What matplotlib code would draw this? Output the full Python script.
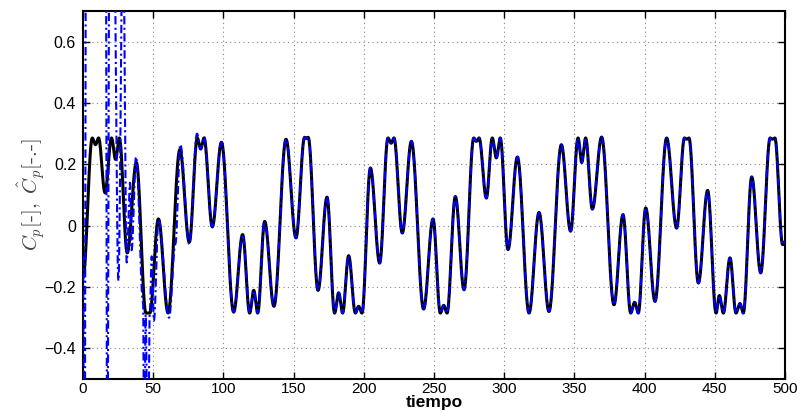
import numpy as np
import matplotlib
matplotlib.use('Agg')
import matplotlib.pyplot as plt

# ---- data: local extrema of the true Cp (black) ----
cp_t = [0.0, 6.6, 8.9, 11.1, 15.7, 20.3, 23.2, 25.9, 31.5, 38.0, 44.8, 47.6,
        53.7, 60.6, 69.0, 75.7, 81.4, 83.8, 86.2, 92.1, 98.6, 107.3, 113.7,
        118.7, 121.6, 124.4, 129.4, 136.0, 144.6, 151.7, 157.8, 159.1, 160.4,
        167.4, 173.8, 179.2, 182.1, 184.9, 189.2, 194.0, 196.3, 198.7, 204.7,
        211.3, 217.2, 219.5, 221.5, 227.4, 233.9, 242.6, 249.3, 254.5, 256.9,
        259.3, 265.2, 271.4, 278.3, 280.2, 282.1, 287.3, 291.5, 294.4, 297.2,
        302.7, 309.4, 317.7, 324.8, 331.9, 340.7, 347.3, 352.6, 355.2, 358.0,
        362.8, 369.4, 378.2, 384.6, 390.1, 392.9, 395.5, 400.8, 407.4, 415.7,
        422.8, 428.4, 430.0, 431.6, 438.3, 444.9, 450.9, 453.2, 456.1, 460.8,
        465.1, 467.9, 470.3, 476.3, 482.7, 489.4, 491.1, 492.8, 498.3, 500.0]
cp_y = [-0.17, 0.286, 0.264, 0.286, 0.107, 0.286, 0.216, 0.286, -0.089, 0.206,
        -0.285, -0.285, 0.022, -0.285, 0.248, -0.054, 0.286, 0.250, 0.286,
        -0.004, 0.272, -0.282, -0.029, -0.285, -0.211, -0.285, 0.014, -0.263,
        0.282, -0.040, 0.288, 0.285, 0.288, -0.211, 0.093, -0.285, -0.219,
        -0.285, -0.098, -0.285, -0.263, -0.285, 0.188, -0.122, 0.286, 0.269,
        0.286, -0.024, 0.275, -0.272, 0.022, -0.285, -0.260, -0.285, 0.095,
        -0.209, 0.286, 0.275, 0.286, 0.090, 0.286, 0.221, 0.286, -0.078, 0.224,
        -0.285, 0.043, -0.280, 0.264, -0.018, 0.286, 0.206, 0.286, 0.054,
        0.289, -0.258, 0.036, -0.285, -0.250, -0.285, 0.058, -0.247, 0.286,
        -0.008, 0.286, 0.282, 0.286, -0.187, 0.115, -0.285, -0.228, -0.285,
        -0.105, -0.285, -0.254, -0.285, 0.159, -0.154, 0.286, 0.282, 0.286,
        -0.062, -0.052]

# ---- estimate (blue) during its start-up transient; afterwards it follows Cp ----
est_t = [0.0, 1.0, 2.4, 16.0, 17.3, 19.0, 22.0, 25.2, 28.5, 31.1, 33.5, 34.6,
         37.8, 42.8, 43.6, 44.6, 46.2, 47.6, 48.9, 50.5, 53.8, 61.3, 65.8,
         69.3, 75.7, 81.2, 83.8, 86.2]
est_y = [-0.10, -1.20, 1.50, 1.50, -0.90, 1.20, 1.00, -0.18, 1.00, -0.12, 0.14,
         -0.08, 0.225, -0.25, -0.80, -0.29, -0.80, -0.28, -0.10, -0.31, 0.02,
         -0.30, -0.06, 0.265, -0.060, 0.300, 0.250, 0.290]

xticks = [0, 50, 100, 150, 200, 250, 300, 350, 400, 450, 500]
yticks = [-0.4, -0.2, 0, 0.2, 0.4, 0.6]


def smooth_path(ts, ys, n=30):
    """Draw a smooth stroke through successive extrema."""
    tt, yy = [], []
    for i in range(len(ts) - 1):
        s = np.linspace(0, 1, n, endpoint=False)
        tt.append(ts[i] + (ts[i + 1] - ts[i]) * s)
        yy.append(ys[i] + (ys[i + 1] - ys[i]) * (1 - np.cos(np.pi * s)) / 2)
    tt.append([ts[-1]])
    yy.append([ys[-1]])
    return np.concatenate(tt), np.concatenate(yy)


plt.rcParams['font.family'] = ['Liberation Sans', 'DejaVu Sans']
plt.rcParams['mathtext.fontset'] = 'cm'

fig = plt.figure(figsize=(8.03, 4.13), dpi=100)
ax = fig.add_axes([83 / 803, 1 - 379 / 413, (785 - 83) / 803, (379 - 11) / 413])

bt, by = smooth_path(cp_t, cp_y)
ax.plot(bt, by, color='black', lw=2.2, zorder=3)

k = next(i for i, t in enumerate(cp_t) if t > est_t[-1])
et, ey = smooth_path(est_t + cp_t[k:], est_y + cp_y[k:])
ax.plot(et, ey, color='#0000ff', lw=1.5, linestyle=(0, (4, 1.6, 1, 1.6)), zorder=4)

ax.set_xlim(0, 500)
ax.set_ylim(-0.5, 0.7)
ax.set_xticks(xticks)
ax.set_yticks(yticks)
ax.set_yticklabels(['\u22120.4', '\u22120.2', '0', '0.2', '0.4', '0.6'])
ax.grid(True, linestyle=(0, (1, 3)), color='#888888', lw=0.8)
ax.tick_params(direction='in', length=5, width=1, top=True, right=True,
               labelsize=11.5, pad=5)
ax.tick_params(axis='x', labelsize=11, pad=2.5)
for sp in ax.spines.values():
    sp.set_linewidth(1.5)

ax.set_xlabel('tiempo', fontsize=12.5, fontweight='bold', labelpad=-1)
ax.set_ylabel(r'$C_p[\mathrm{\text{-}}],\ \hat{C}_p[\mathrm{\text{-.-}}]$',
              fontsize=15, color='#444444', labelpad=-2)

fig.savefig('out.png', dpi=100)
